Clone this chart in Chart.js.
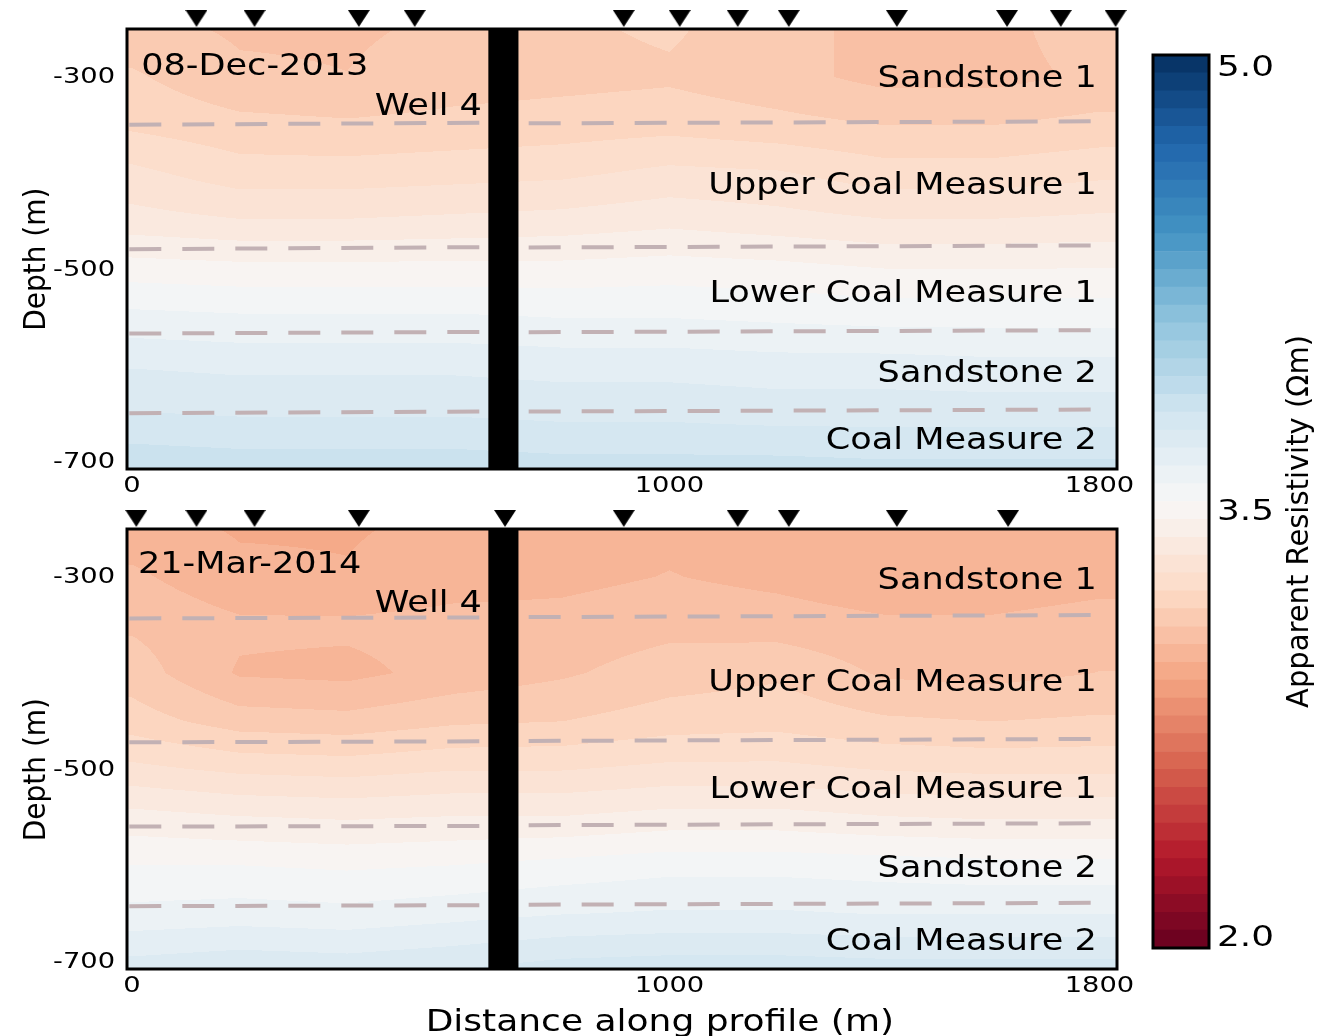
<!DOCTYPE html>
<html>
<head>
<meta charset="utf-8">
<script src="https://cdn.jsdelivr.net/npm/chart.js@4.4.1/dist/chart.umd.min.js"></script>
<style>
  html, body { margin: 0; padding: 0; background: #fff; }
  #page { position: relative; width: 1338px; height: 1036px; overflow: hidden; }
  canvas { position: absolute; }
</style>
</head>
<body>
<div id="page">
  <canvas id="top" width="1140" height="500" style="left:0;top:0;width:1140px;height:500px"></canvas>
  <canvas id="bottom" width="1140" height="536" style="left:0;top:500px;width:1140px;height:536px"></canvas>
  <canvas id="cbar" width="198" height="1036" style="left:1140px;top:0;width:198px;height:1036px"></canvas>
</div>
<script>
// grid nodes of the resistivity sections (distance m, depth m)
const gridDistance = [0, 200, 400, 600, 800, 1000, 1200, 1400, 1600, 1800];
const gridDepth = [-250, -300, -350, -400, -450, -500, -550, -600, -650, -710];

// apparent resistivity (Ohm m), one row per depth node
const decResistivity = [
  [3.09, 3.06, 3.06, 3.08, 3.12, 3.14, 3.09, 3.05, 3.05, 3.10],
  [3.14, 3.08, 3.07, 3.10, 3.11, 3.12, 3.09, 3.05, 3.05, 3.08],
  [3.18, 3.15, 3.14, 3.15, 3.16, 3.17, 3.15, 3.13, 3.13, 3.15],
  [3.27, 3.22, 3.22, 3.23, 3.24, 3.27, 3.26, 3.22, 3.22, 3.24],
  [3.34, 3.32, 3.32, 3.33, 3.34, 3.36, 3.34, 3.32, 3.32, 3.33],
  [3.47, 3.46, 3.46, 3.46, 3.46, 3.47, 3.46, 3.44, 3.44, 3.44],
  [3.58, 3.57, 3.57, 3.57, 3.56, 3.56, 3.55, 3.54, 3.54, 3.54],
  [3.68, 3.67, 3.67, 3.67, 3.66, 3.66, 3.65, 3.65, 3.64, 3.64],
  [3.75, 3.74, 3.74, 3.74, 3.73, 3.73, 3.72, 3.72, 3.72, 3.72],
  [3.86, 3.85, 3.85, 3.85, 3.84, 3.84, 3.84, 3.83, 3.83, 3.83],
];
const marResistivity = [
  [2.97, 2.94, 2.94, 2.96, 2.97, 2.99, 2.97, 2.95, 2.95, 2.96],
  [3.02, 2.96, 2.95, 2.98, 2.99, 3.01, 2.99, 2.96, 2.96, 2.98],
  [3.06, 3.02, 3.02, 3.03, 3.03, 3.05, 3.04, 3.02, 3.02, 3.04],
  [3.10, 3.00, 2.99, 3.03, 3.06, 3.10, 3.12, 3.06, 3.05, 3.07],
  [3.16, 3.10, 3.09, 3.12, 3.13, 3.16, 3.17, 3.14, 3.13, 3.14],
  [3.27, 3.24, 3.23, 3.25, 3.25, 3.27, 3.27, 3.25, 3.24, 3.24],
  [3.40, 3.38, 3.37, 3.38, 3.38, 3.40, 3.40, 3.38, 3.37, 3.37],
  [3.50, 3.50, 3.49, 3.50, 3.52, 3.54, 3.54, 3.53, 3.52, 3.52],
  [3.58, 3.59, 3.58, 3.60, 3.62, 3.63, 3.63, 3.62, 3.62, 3.62],
  [3.72, 3.74, 3.73, 3.75, 3.78, 3.79, 3.79, 3.78, 3.78, 3.78],
];

// receiver stations along the profile (m)
const decStations = [120, 228, 422, 526, 915, 1019, 1127, 1222, 1423, 1628, 1728, 1830];
const marStations = [8, 120, 228, 422, 694, 915, 1127, 1222, 1423, 1630];

// layer boundaries: depth at left edge, well (left), well (right), right edge
const boundaryDistance = [-5, 650, 738, 1805];
const decBoundaries = [
  [-349.7, -347.6, -348.2, -346.1],
  [-479.2, -477.1, -477.4, -475.3],
  [-567.0, -565.3, -565.6, -563.5],
  [-650.0, -648.1, -648.2, -646.1],
];
const marBoundaries = [
  [-343.1, -342.0, -341.7, -339.6],
  [-472.1, -471.0, -470.6, -468.5],
  [-559.8, -559.1, -558.3, -556.3],
  [-642.6, -641.6, -641.1, -639.1],
];

const layerNames = ["Sandstone 1", "Upper Coal Measure 1", "Lower Coal Measure 1", "Sandstone 2", "Coal Measure 2"];
const decLabelDepth = [-310, -422, -534, -617, -687];
const marLabelDepth = [-312, -419, -530, -612, -688];

const wellSpan = [663, 719];
const xTicks = [0, 1000, 1800];
const yTicks = [-300, -500, -700];
const cbarTicks = [2.0, 3.5, 5.0];
const cbarMin = 1.96;
const cbarMax = 5.04;
const bandCount = 50;

Chart.defaults.font.family = "DejaVu Sans";

// matplotlib RdBu
const rdbuStops = [
  [103, 0, 31], [178, 24, 43], [214, 96, 77], [244, 165, 130], [253, 219, 199],
  [247, 247, 247], [209, 229, 240], [146, 197, 222], [67, 147, 195], [33, 102, 172], [5, 48, 97],
];
function rdbu(f) {
  f = Math.min(1, Math.max(0, f));
  const p = f * 10;
  const i = Math.min(9, Math.floor(p));
  const t = p - i;
  const a = rdbuStops[i], b = rdbuStops[i + 1];
  return a.map((c, k) => Math.round(c + (b[k] - c) * t));
}

const bandStep = (cbarMax - cbarMin) / bandCount;
const bands = Array.from({ length: bandCount }, (_, k) => {
  const lo = cbarMin + k * bandStep;
  const hi = lo + bandStep;
  return { lo, hi, rgb: rdbu(((lo + hi) / 2 - cbarMin) / (cbarMax - cbarMin)) };
});

function bandColor(v) {
  const k = Math.min(bandCount - 1, Math.max(0, Math.floor((v - cbarMin) / bandStep)));
  return bands[k].rgb;
}

function locate(nodes, v) {
  const asc = nodes[nodes.length - 1] > nodes[0];
  for (let i = 0; i < nodes.length - 1; i++) {
    const a = nodes[i], b = nodes[i + 1];
    if (asc ? v <= b : v >= b) {
      return [i, Math.min(1, Math.max(0, (v - a) / (b - a)))];
    }
  }
  return [nodes.length - 2, 1];
}

function sampleGrid(grid, dist, depth) {
  const [i, tx] = locate(gridDistance, dist);
  const [j, ty] = locate(gridDepth, depth);
  const top = grid[j][i] * (1 - tx) + grid[j][i + 1] * tx;
  const bot = grid[j + 1][i] * (1 - tx) + grid[j + 1][i + 1] * tx;
  return top * (1 - ty) + bot * ty;
}

function stretchText(ctx, text, x, y, { size, sx = 1, align = "left", baseline = "alphabetic", rotate = false }) {
  ctx.save();
  ctx.translate(x, y);
  if (rotate) {
    ctx.rotate(-Math.PI / 2);
    ctx.scale(1, sx);
  } else {
    ctx.scale(sx, 1);
  }
  ctx.font = `${size}px "DejaVu Sans"`;
  ctx.textAlign = align;
  ctx.textBaseline = baseline;
  ctx.fillStyle = "#000";
  ctx.fillText(text, 0, 0);
  ctx.restore();
}

function makeTriangle() {
  const c = document.createElement("canvas");
  c.width = 22;
  c.height = 17;
  const g = c.getContext("2d");
  g.fillStyle = "#000";
  g.beginPath();
  g.moveTo(0, 0);
  g.lineTo(22, 0);
  g.lineTo(11, 17);
  g.closePath();
  g.fill();
  return c;
}
const triangle = makeTriangle();

const sectionPlugin = {
  id: "section",
  beforeDatasetsDraw(chart, args, o) {
    const { ctx, chartArea: a, scales: { x, y } } = chart;
    const w = Math.round(a.right - a.left);
    const h = Math.round(a.bottom - a.top);
    const img = ctx.createImageData(w, h);
    const cols = [];
    for (let i = 0; i < w; i++) cols.push(x.getValueForPixel(a.left + i + 0.5));
    for (let j = 0; j < h; j++) {
      const depth = y.getValueForPixel(a.top + j + 0.5);
      for (let i = 0; i < w; i++) {
        const c = bandColor(sampleGrid(o.grid, cols[i], depth));
        const p = (j * w + i) * 4;
        img.data[p] = c[0];
        img.data[p + 1] = c[1];
        img.data[p + 2] = c[2];
        img.data[p + 3] = 255;
      }
    }
    ctx.putImageData(img, Math.round(a.left), Math.round(a.top));

    const wl = x.getPixelForValue(wellSpan[0]);
    const wr = x.getPixelForValue(wellSpan[1]);
    ctx.save();
    ctx.fillStyle = "#000";
    ctx.fillRect(wl, a.top, wr - wl, a.bottom - a.top);
    ctx.restore();
  },
  afterDatasetsDraw(chart, args, o) {
    const { ctx, chartArea: a, scales: { x, y } } = chart;
    ctx.save();
    ctx.strokeStyle = "#000";
    ctx.lineWidth = 3;
    ctx.strokeRect(a.left, a.top, a.right - a.left, a.bottom - a.top);
    ctx.restore();

    const big = { size: 30, sx: 1.17 };
    stretchText(ctx, o.date, x.getPixelForValue(o.dateAt[0]), y.getPixelForValue(o.dateAt[1]), big);
    stretchText(ctx, "Well 4", x.getPixelForValue(o.wellAt[0]), y.getPixelForValue(o.wellAt[1]), { ...big, align: "right" });
    layerNames.forEach((name, i) => {
      stretchText(ctx, name, x.getPixelForValue(1795), y.getPixelForValue(o.labelDepth[i]), { ...big, align: "right" });
    });

    y.ticks.forEach((t) => {
      stretchText(ctx, String(t.value), a.left - 12, y.getPixelForValue(t.value) + 1, { size: 21, sx: 1.3, align: "right", baseline: "middle" });
    });
    x.ticks.forEach((t) => {
      stretchText(ctx, String(t.value), x.getPixelForValue(t.value), a.bottom + 23, { size: 21, sx: 1.3, align: "center" });
    });
    stretchText(ctx, "Depth (m)", 45, y.getPixelForValue(o.depthTitleAt), { size: 28, sx: 1.06, align: "center", rotate: true });
    if (o.xTitle) {
      stretchText(ctx, "Distance along profile (m)", x.getPixelForValue(982), a.bottom + 62, { size: 30, sx: 1.2, align: "center" });
    }
  },
};

function boundaryDatasets(rows) {
  return rows.map((d) => ({
    type: "scatter",
    showLine: true,
    data: [
      { x: boundaryDistance[0], y: d[0] },
      { x: boundaryDistance[1], y: d[1] },
      { x: (boundaryDistance[1] + boundaryDistance[2]) / 2, y: null },
      { x: boundaryDistance[2], y: d[2] },
      { x: boundaryDistance[3], y: d[3] },
    ],
    borderColor: "#c2b1b4",
    borderWidth: 4,
    borderDash: [32, 21],
    borderCapStyle: "butt",
    pointRadius: 0,
    spanGaps: false,
  }));
}

function makeSection(id, cfg) {
  return new Chart(document.getElementById(id), {
    type: "scatter",
    data: {
      datasets: [
        ...boundaryDatasets(cfg.boundaries),
        {
          data: cfg.stations.map((s) => ({ x: s, y: -239 })),
          pointStyle: triangle,
          pointRadius: 11,
          clip: false,
        },
      ],
    },
    plugins: [sectionPlugin],
    options: {
      responsive: false,
      animation: false,
      devicePixelRatio: 1,
      events: [],
      layout: { padding: { top: 29, right: 23, left: 0, bottom: 0 } },
      plugins: {
        legend: { display: false },
        tooltip: { enabled: false },
        section: cfg,
      },
      scales: {
        x: {
          type: "linear",
          min: -9.3,
          max: 1832.6,
          grid: { display: false },
          border: { display: false },
          ticks: { display: false },
          afterBuildTicks: (s) => { s.ticks = xTicks.map((v) => ({ value: v })); },
          afterFit: (s) => { s.height = cfg.xAxisHeight; },
        },
        y: {
          type: "linear",
          min: -708,
          max: -250,
          grid: { display: false },
          border: { display: false },
          ticks: { display: false },
          afterBuildTicks: (s) => { s.ticks = yTicks.map((v) => ({ value: v })); },
          afterFit: (s) => { s.width = 127; },
        },
      },
    },
  });
}

makeSection("top", {
  grid: decResistivity,
  boundaries: decBoundaries,
  stations: decStations,
  labelDepth: decLabelDepth,
  date: "08-Dec-2013",
  dateAt: [17, -298],
  wellAt: [651, -339.6],
  depthTitleAt: -489.6,
  xTitle: false,
  xAxisHeight: 31,
});

makeSection("bottom", {
  grid: marResistivity,
  boundaries: marBoundaries,
  stations: marStations,
  labelDepth: marLabelDepth,
  date: "21-Mar-2014",
  dateAt: [11, -296],
  wellAt: [651, -336.5],
  depthTitleAt: -500.5,
  xTitle: true,
  xAxisHeight: 67,
});

const colorbarPlugin = {
  id: "colorbarFrame",
  afterDraw(chart) {
    const { ctx, chartArea: a, scales: { y } } = chart;
    ctx.save();
    ctx.strokeStyle = "#000";
    ctx.lineWidth = 3;
    ctx.strokeRect(a.left, a.top, a.right - a.left, a.bottom - a.top);
    ctx.restore();
    cbarTicks.forEach((v) => {
      const nudge = v === 3.5 ? 11 : 2;
      stretchText(ctx, v.toFixed(1), a.right + 8, y.getPixelForValue(v) + nudge, { size: 28, sx: 1.28, baseline: "middle" });
    });
    stretchText(ctx, "Apparent Resistivity (\u03A9m)", 168, (a.top + a.bottom) / 2 + 20, { size: 29, sx: 1.05, align: "center", rotate: true });
  },
};

new Chart(document.getElementById("cbar"), {
  type: "bar",
  data: {
    labels: [""],
    datasets: bands.map((b) => ({
      data: [[b.lo, b.hi]],
      backgroundColor: `rgb(${b.rgb.join(",")})`,
      borderWidth: 0,
      barPercentage: 1,
      categoryPercentage: 1,
      grouped: false,
    })),
  },
  plugins: [colorbarPlugin],
  options: {
    responsive: false,
    animation: false,
    devicePixelRatio: 1,
    events: [],
    layout: { padding: { left: 13, right: 129, top: 55, bottom: 88 } },
    plugins: { legend: { display: false }, tooltip: { enabled: false } },
    scales: {
      x: { display: false },
      y: { display: false, min: cbarMin, max: cbarMax },
    },
  },
});
</script>
</body>
</html>
